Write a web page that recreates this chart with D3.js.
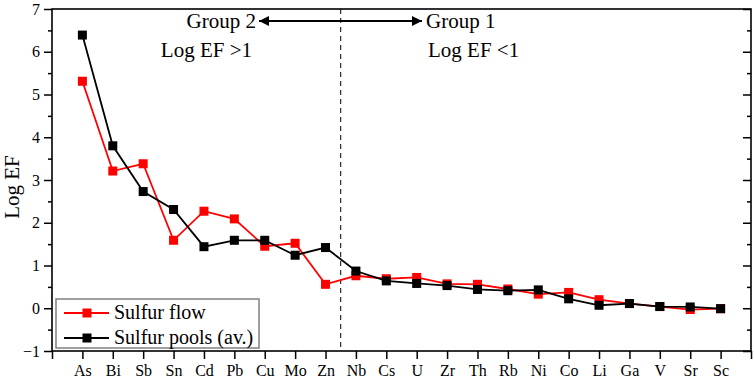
<!DOCTYPE html>
<html>
<head>
<meta charset="utf-8">
<script src="https://cdn.jsdelivr.net/npm/d3@7"></script>
<style>
  body { margin: 0; background: #fff; }
</style>
</head>
<body>
<div id="chart"></div>
<script>
// elements along the x axis
const elements = ["As", "Bi", "Sb", "Sn", "Cd", "Pb", "Cu", "Mo", "Zn", "Nb", "Cs",
                  "U", "Zr", "Th", "Rb", "Ni", "Co", "Li", "Ga", "V", "Sr", "Sc"];

// Log EF values
const sulfurFlow = [5.31, 3.21, 3.38, 1.59, 2.27, 2.09, 1.45, 1.52, 0.56, 0.76, 0.69,
                    0.72, 0.57, 0.56, 0.45, 0.33, 0.37, 0.20, 0.11, 0.04, -0.03, -0.01];
const sulfurPools = [6.39, 3.80, 2.73, 2.31, 1.44, 1.59, 1.59, 1.24, 1.42, 0.87, 0.64,
                     0.58, 0.53, 0.44, 0.41, 0.43, 0.22, 0.07, 0.11, 0.04, 0.03, -0.01];

const yTicks = [-1, 0, 1, 2, 3, 4, 5, 6, 7];
const seriesNames = ["Sulfur flow", "Sulfur pools (av.)"];
const seriesColors = ["#ff0000", "#000000"];

const FONT = "'Liberation Serif', 'Times New Roman', Times, serif";

const width = 754, height = 378;
const margin = { top: 9, right: 3, bottom: 27, left: 52 };

const svg = d3.select("#chart").append("svg")
    .attr("width", width)
    .attr("height", height)
    .style("font-family", FONT);

const x = d3.scaleLinear()
    .domain([0, elements.length + 1])
    .range([margin.left, width - margin.right]);

const y = d3.scaleLinear()
    .domain([-1, 7])
    .range([height - margin.bottom, margin.top]);

const minor = d3.range(-0.5, 7, 1);

// left axis, ticks outward
svg.append("g")
    .attr("transform", `translate(${margin.left},0)`)
    .call(d3.axisLeft(y).tickValues(yTicks).tickSize(8).tickPadding(4).tickFormat(d3.format("d")))
    .selectAll("text").style("font-size", "16px");
svg.append("g")
    .attr("transform", `translate(${margin.left},0)`)
    .call(d3.axisLeft(y).tickValues(minor).tickSize(4).tickFormat(""));

// right axis, ticks inward
svg.append("g")
    .attr("transform", `translate(${width - margin.right},0)`)
    .call(d3.axisLeft(y).tickValues(yTicks).tickSize(8).tickFormat(""))
    .selectAll("line").attr("x2", -8);
svg.append("g")
    .attr("transform", `translate(${width - margin.right},0)`)
    .call(d3.axisLeft(y).tickValues(minor).tickSize(4).tickFormat(""))
    .selectAll("line").attr("x2", -4);

// bottom axis
svg.append("g")
    .attr("transform", `translate(0,${height - margin.bottom})`)
    .call(d3.axisBottom(x).tickValues(d3.range(0, elements.length + 2)).tickSize(8).tickPadding(6)
        .tickFormat(d => elements[d - 1] || ""))
    .selectAll("text").style("font-size", "16px");

svg.selectAll(".domain").remove();
svg.selectAll(".tick line").attr("stroke", "#000").attr("stroke-width", 1.5);

// frame
svg.append("rect")
    .attr("x", margin.left)
    .attr("y", margin.top)
    .attr("width", width - margin.left - margin.right)
    .attr("height", height - margin.bottom - margin.top)
    .attr("fill", "none")
    .attr("stroke", "#000")
    .attr("stroke-width", 1.6);

// y title
svg.append("text")
    .attr("transform", `translate(19,187) rotate(-90)`)
    .attr("text-anchor", "middle")
    .style("font-size", "21px")
    .text("Log EF");

// group divider
const xDiv = x(9.5);
svg.append("line")
    .attr("x1", xDiv).attr("x2", xDiv)
    .attr("y1", margin.top).attr("y2", height - margin.bottom)
    .attr("stroke", "#000")
    .attr("stroke-width", 1)
    .attr("stroke-dasharray", "5,4");

svg.append("defs").append("marker")
    .attr("id", "head")
    .attr("viewBox", "0 0 10 10")
    .attr("refX", 10).attr("refY", 5)
    .attr("markerWidth", 5).attr("markerHeight", 5)
    .attr("orient", "auto-start-reverse")
    .append("path").attr("d", "M0,0L10,5L0,10Z").attr("fill", "#000");

svg.append("line")
    .attr("x1", 259).attr("x2", 422)
    .attr("y1", 21).attr("y2", 21)
    .attr("stroke", "#000")
    .attr("stroke-width", 2)
    .attr("marker-start", "url(#head)")
    .attr("marker-end", "url(#head)");

const notes = [
    { text: "Group 2", x: 256, y: 28, anchor: "end" },
    { text: "Log EF >1", x: 252, y: 57, anchor: "end" },
    { text: "Group 1", x: 426, y: 28, anchor: "start" },
    { text: "Log EF <1", x: 428, y: 57, anchor: "start" }
];
svg.selectAll(".note")
    .data(notes)
    .join("text")
    .attr("class", "note")
    .attr("x", d => d.x)
    .attr("y", d => d.y)
    .attr("text-anchor", d => d.anchor)
    .style("font-size", "21px")
    .text(d => d.text);

// series
const series = [sulfurFlow, sulfurPools];
const line = d3.line()
    .x((d, i) => x(i + 1))
    .y(d => y(d));

series.forEach((vals, k) => {
    svg.append("path")
        .datum(vals)
        .attr("fill", "none")
        .attr("stroke", seriesColors[k])
        .attr("stroke-width", 1.8)
        .attr("d", line);
    svg.selectAll(null)
        .data(vals)
        .join("rect")
        .attr("x", (d, i) => x(i + 1) - 4.5)
        .attr("y", d => y(d) - 4.5)
        .attr("width", 9)
        .attr("height", 9)
        .attr("fill", seriesColors[k]);
});

// legend
const lg = svg.append("g");
lg.append("rect")
    .attr("x", 56).attr("y", 299)
    .attr("width", 203).attr("height", 49)
    .attr("fill", "#fff")
    .attr("stroke", "#808080")
    .attr("stroke-width", 1.5);
seriesNames.forEach((name, k) => {
    const ly = 313 + k * 25;
    lg.append("line")
        .attr("x1", 64).attr("x2", 109)
        .attr("y1", ly).attr("y2", ly)
        .attr("stroke", seriesColors[k])
        .attr("stroke-width", 1.8);
    lg.append("rect")
        .attr("x", 82.5).attr("y", ly - 4.5)
        .attr("width", 9).attr("height", 9)
        .attr("fill", seriesColors[k]);
    lg.append("text")
        .attr("x", 114).attr("y", ly + 6)
        .style("font-size", "20px")
        .text(name);
});

// every text uses the serif face (axis groups set their own font-family)
svg.selectAll("text").style("font-family", FONT).attr("fill", "#000");
</script>
</body>
</html>
